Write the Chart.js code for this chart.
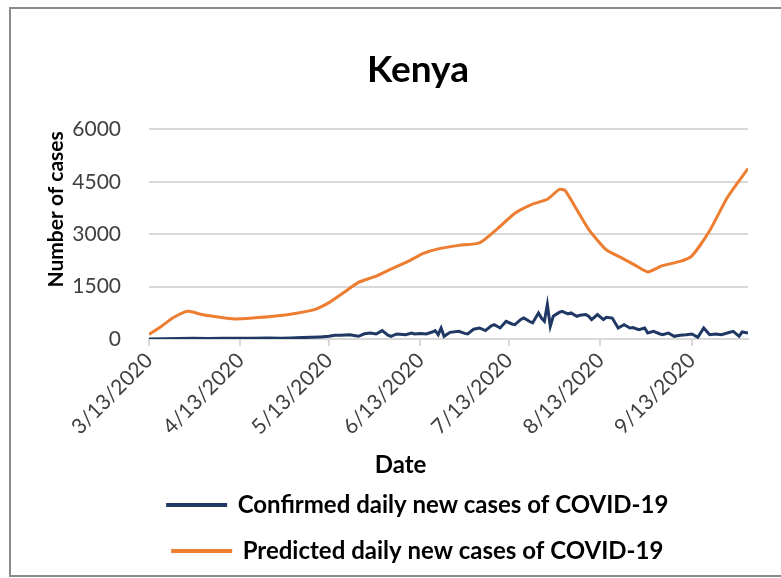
<!DOCTYPE html>
<html>
<head>
<meta charset="utf-8">
<title>Kenya</title>
<script src="https://cdn.jsdelivr.net/npm/chart.js@4.4.1/dist/chart.umd.min.js"></script>
<style>
  html, body { margin: 0; padding: 0; background: #fff; overflow: hidden; }
  #wrap { position: relative; width: 781px; height: 578px; overflow: hidden; background: #fff; }
  #kenyaChart { position: absolute; left: 0; top: 0; }
  #frame { position: absolute; left: 9px; top: 7px; width: 840px; height: 566px; border: 2px solid #8c8c8c; pointer-events: none; }
</style>
</head>
<body>
<div id="wrap">
  <canvas id="kenyaChart" width="836" height="600"></canvas>
  <div id="frame"></div>
</div>
<script>
// x values are days since 3/13/2020
const tickDays = [0, 31, 61, 92, 122, 153, 184];
const tickLabels = ['3/13/2020', '4/13/2020', '5/13/2020', '6/13/2020', '7/13/2020', '8/13/2020', '9/13/2020'];
const yTicks = [0, 1500, 3000, 4500, 6000];

const confirmedDays = [0, 5, 10, 15, 20, 25, 30, 35, 40, 45, 48, 52, 55, 58, 61, 63, 65, 68, 71, 73,
  75, 77, 79, 81, 82, 84, 86, 87, 89, 90, 92, 94, 96, 97, 98, 99, 100, 102, 105, 107,
  108, 110, 112, 114, 116, 117, 119, 121, 123, 124, 126, 127, 129, 130, 132, 133, 134, 135, 136, 137,
  139, 140, 142, 143, 145, 146, 148, 149, 150, 152, 154, 155, 157, 159, 161, 163, 164, 166, 168, 169,
  171, 173, 174, 176, 178, 180, 182, 184, 186, 188, 190, 192, 194, 196, 198, 200, 201, 203];
const confirmedCases = [0, 5, 15, 20, 15, 20, 25, 20, 30, 25, 29, 40, 48, 60, 77, 110, 105, 124, 77, 150,
  172, 144, 240, 110, 77, 144, 130, 124, 170, 144, 160, 144, 200, 240, 124, 316, 77, 190, 220, 160,
  144, 280, 316, 240, 380, 411, 316, 507, 430, 411, 560, 600, 500, 460, 746, 600, 507, 985, 363, 650,
  760, 794, 720, 746, 650, 680, 700, 650, 555, 700, 555, 620, 600, 316, 411, 316, 330, 268, 316, 172,
  220, 150, 124, 172, 77, 110, 124, 144, 48, 316, 124, 144, 124, 172, 220, 77, 200, 170];

const predictedDays = [0, 4, 8, 12, 14, 18, 24, 29, 35, 42, 50, 56, 61, 66, 71, 77, 82, 88, 93, 98,
  105, 112, 118, 124, 130, 135, 139, 141, 145, 149, 155, 160, 165, 169, 174, 180, 184, 190, 196, 203];
const predictedCases = [130, 350, 600, 770, 790, 700, 620, 575, 600, 650, 740, 840, 1040, 1330, 1620, 1800, 2000, 2230, 2450, 2580,
  2680, 2750, 3150, 3600, 3860, 4000, 4280, 4250, 3700, 3140, 2550, 2330, 2100, 1920, 2100, 2220, 2380, 3100, 4050, 4880];

function toPoints(days, values) {
  return days.map((d, i) => ({ x: d, y: values[i] }));
}

// axis titles are placed by hand, like the original Excel chart
const axisTitles = {
  id: 'axisTitles',
  afterDraw(chart) {
    const { ctx, chartArea } = chart;
    ctx.save();
    ctx.fillStyle = '#000';
    ctx.textAlign = 'center';
    ctx.textBaseline = 'middle';
    ctx.font = 'bold 24px Lato';
    ctx.fillText('Date', chartArea.left + chartArea.width * 0.42, chartArea.bottom + 126);
    ctx.translate(56, chartArea.top + 80);
    ctx.rotate(-Math.PI / 2);
    ctx.font = 'bold 21px Lato';
    ctx.fillText('Number of cases', 0, 0);
    ctx.restore();
  }
};

const tickFont = { family: 'Lato', size: 21 };

new Chart(document.getElementById('kenyaChart'), {
  type: 'line',
  data: {
    datasets: [{
      label: 'Confirmed daily new cases of COVID-19',
      data: toPoints(confirmedDays, confirmedCases),
      borderColor: '#203864',
      backgroundColor: '#203864',
      borderWidth: 3,
      pointRadius: 0,
      tension: 0
    }, {
      label: 'Predicted daily new cases of COVID-19',
      data: toPoints(predictedDays, predictedCases),
      borderColor: '#ed7d31',
      backgroundColor: '#ed7d31',
      borderWidth: 3,
      pointRadius: 0,
      tension: 0.2
    }]
  },
  options: {
    responsive: false,
    animation: false,
    layout: { padding: { left: 9, right: 9, top: 8, bottom: 27 } },
    plugins: {
      title: {
        display: true,
        text: 'Kenya',
        color: '#000',
        font: { family: 'Lato', size: 37, weight: 'bold' },
        padding: { top: 40, bottom: 37 }
      },
      legend: {
        position: 'bottom',
        labels: {
          color: '#000',
          font: { family: 'Lato', size: 24, weight: 'bold' },
          boxWidth: 58,
          boxHeight: 1,
          padding: 22
        }
      },
      tooltip: { enabled: false }
    },
    scales: {
      x: {
        type: 'linear',
        min: 0,
        max: 203,
        afterBuildTicks: s => { s.ticks = tickDays.map(v => ({ value: v })); },
        ticks: {
          callback: v => tickLabels[tickDays.indexOf(v)],
          autoSkip: false,
          minRotation: 45,
          maxRotation: 45,
          padding: 2,
          color: '#404040',
          font: tickFont
        },
        grid: { drawOnChartArea: false, color: '#d9d9d9', lineWidth: 2, tickLength: 7 },
        border: { color: '#d9d9d9', width: 2 },
        afterFit: s => { s.height = 132; }
      },
      y: {
        type: 'linear',
        min: 0,
        max: 6000,
        afterBuildTicks: s => { s.ticks = yTicks.map(v => ({ value: v })); },
        ticks: { callback: v => String(v), padding: 28, color: '#404040', font: tickFont },
        grid: { color: '#d9d9d9', lineWidth: 2, drawTicks: false },
        border: { display: false },
        afterFit: s => { s.width = 140; }
      },
      yPad: {
        type: 'linear',
        position: 'right',
        ticks: { display: false },
        grid: { display: false },
        border: { display: false },
        afterFit: s => { s.width = 79; }
      }
    }
  },
  plugins: [axisTitles]
});
</script>
</body>
</html>
